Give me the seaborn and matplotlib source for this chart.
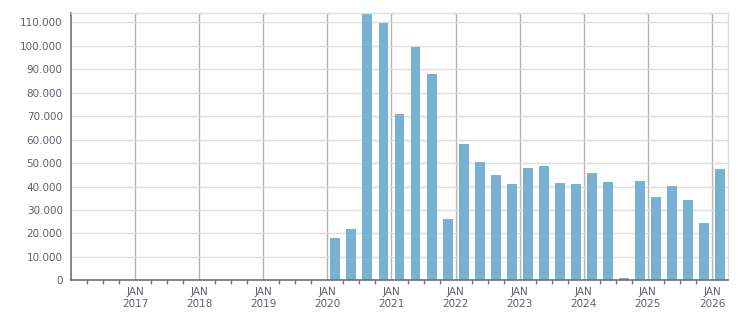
import numpy as np
import pandas as pd
import matplotlib
matplotlib.use("Agg")
import matplotlib.pyplot as plt
import seaborn as sns
from matplotlib.ticker import FuncFormatter, FixedLocator

# -------------------------------------------------------------------
# data (quarterly values)
# -------------------------------------------------------------------
quarters = ["2020Q1", "2020Q2", "2020Q3", "2020Q4",
            "2021Q1", "2021Q2", "2021Q3", "2021Q4",
            "2022Q1", "2022Q2", "2022Q3", "2022Q4",
            "2023Q1", "2023Q2", "2023Q3", "2023Q4",
            "2024Q1", "2024Q2", "2024Q3", "2024Q4",
            "2025Q1", "2025Q2", "2025Q3", "2025Q4",
            "2026Q1"]
values = [18000, 21900, 113600, 109700,
          70900, 99500, 88000, 26100,
          58100, 50500, 44900, 41100,
          47900, 48700, 41500, 41100,
          45800, 41900, 1000, 42400,
          35500, 40200, 34300, 24400,
          47500]
years = list(range(2017, 2027))
tick_labels = [f"JAN\n{y}" for y in years]

# -------------------------------------------------------------------
# build frame: bar centred in the middle of each quarter
# -------------------------------------------------------------------
per = pd.PeriodIndex(quarters, freq="Q")
pos = per.year + (per.quarter - 1) / 4 + 0.125
df = pd.DataFrame({"t": np.asarray(pos, dtype=float), "v": values})

sns.set_style("white")
plt.rcParams["font.family"] = ["DejaVu Sans"]
txt_col = "#5f5f70"

fig = plt.figure(figsize=(7.51, 3.13), dpi=100)
ax = fig.add_axes([71 / 751, 32.7 / 313, (728 - 71) / 751, (280.3 - 13) / 313])

sns.barplot(data=df, x="t", y="v", native_scale=True, width=0.62,
            color="#77b1d4", saturation=1, edgecolor="none", ax=ax)

ax.set_xlim(2016.0, 2026.25)
ax.set_ylim(0, 114000)
ax.set_xlabel("")
ax.set_ylabel("")

# y axis
ax.yaxis.set_major_locator(FixedLocator(np.arange(0, 110001, 10000)))
ax.yaxis.set_major_formatter(FuncFormatter(lambda v, p: f"{int(v):,}".replace(",", ".")))
ax.grid(axis="y", color="#dddddd", linewidth=1)

# x axis: JAN major ticks, quarterly minor ticks
ax.set_xticks(years)
ax.set_xticklabels(tick_labels)
ax.xaxis.set_minor_locator(FixedLocator(np.arange(2016.25, 2026.25, 0.25)))
ax.grid(axis="x", which="major", color="#b4b4b4", linewidth=1)
ax.set_axisbelow(True)

ax.tick_params(axis="both", which="major", labelsize=7.5, colors="#707070",
               labelcolor=txt_col, length=4, width=1, direction="out")
ax.tick_params(axis="x", which="major", length=3, pad=2)
ax.tick_params(axis="x", which="minor", length=3, width=1, color="#707070",
               direction="out", bottom=True)
ax.tick_params(axis="y", pad=2)

for s in ["left", "bottom"]:
    ax.spines[s].set_color("#707070")
    ax.spines[s].set_linewidth(1.2)
for s in ["top", "right"]:
    ax.spines[s].set_visible(True)
    ax.spines[s].set_color("#dddddd")
    ax.spines[s].set_linewidth(1)

fig.savefig("out.png", dpi=100)
